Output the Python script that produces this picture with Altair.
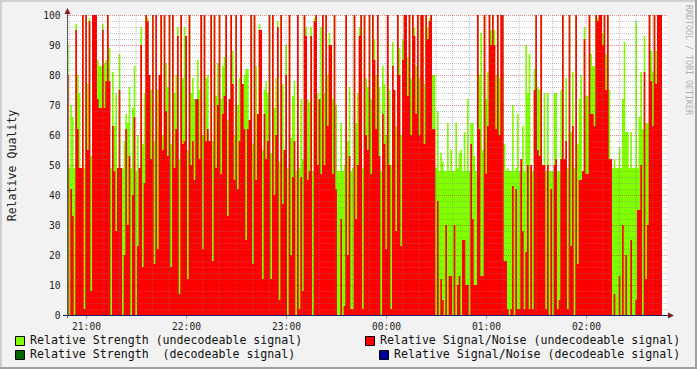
import altair as alt
import pandas as pd

# ---------------- data ----------------
START_MIN = 1248.6          # 20:48:36, minutes since midnight of first day
X_DOMAIN = [1248.6, 1608.6]  # 6 hours shown

# Relative Strength (undecodeable signal), one value per minute
STRENGTH = [
    90, 49, 70, 66, 49, 97, 80, 74, 49, 100, 49, 100, 77, 99, 53, 100, 100, 100, 85, 83,
    83, 97, 84, 85, 100, 89, 49, 81, 63, 74, 49, 87, 49, 49, 58, 67, 64, 76, 49, 69,
    83, 48, 60, 49, 96, 57, 74, 100, 99, 80, 75, 100, 58, 100, 75, 80, 100, 60, 100,
    84, 76, 100, 57, 100, 74, 80, 96, 52, 100, 79, 96, 93, 55, 100, 74, 79, 72, 72, 85,
    75, 100, 60, 100, 79, 80, 58, 100, 58, 100, 73, 84, 100, 72, 83, 86, 100, 65, 72, 100,
    88, 60, 100, 70, 79, 100, 77, 80, 82, 82, 65, 100, 57, 100, 83, 67, 97, 95, 55, 75,
    78, 74, 100, 54, 100, 69, 79, 98, 51, 100, 77, 55, 90, 49, 100, 59, 73, 78, 48, 100,
    49, 72, 52, 100, 96, 72, 71, 96, 48, 99, 100, 74, 72, 96, 100, 74, 100, 80, 94, 90,
    72, 100, 70, 48, 48, 64, 48, 50, 100, 58, 76, 48, 49, 100, 64, 74, 96, 100, 49, 100,
    79, 76, 100, 72, 100, 92, 80, 100, 76, 48, 83, 77, 60, 100, 75, 50, 91, 75, 63, 100,
    89, 60, 92, 100, 100, 86, 100, 79, 100, 96, 83, 100, 79, 100, 100, 77, 100, 96, 99, 100,
    80, 80, 49, 68, 48, 54, 51, 48, 48, 64, 48, 55, 48, 48, 64, 49, 54, 55, 48, 61,
    48, 72, 48, 64, 64, 53, 48, 100, 80, 94, 55, 100, 72, 81, 100, 95, 100, 95, 80, 100,
    79, 100, 100, 57, 48, 49, 48, 48, 70, 48, 49, 67, 48, 48, 63, 48, 90, 74, 87, 48,
    48, 82, 100, 76, 75, 100, 50, 74, 48, 74, 48, 48, 48, 74, 74, 48, 48, 75, 100, 52,
    79, 49, 100, 61, 81, 49, 100, 57, 72, 80, 48, 96, 73, 73, 100, 87, 83, 83, 100, 99,
    100, 100, 94, 100, 87, 100, 75, 52, 49, 52, 49, 49, 56, 49, 72, 91, 61, 61, 49, 61,
    49, 49, 98, 49, 66, 81, 62, 93, 64, 64, 100, 88, 81, 100, 88, 100, 100, 100,
]

# Relative Signal/Noise (undecodeable signal), one value per minute
SNR = [
    80, 0, 42, 33, 0, 95, 62, 49, 49, 100, 2, 100, 55, 98, 8, 100, 100, 100, 72, 69,
    69, 95, 69, 78, 100, 78, 0, 63, 48, 28, 49, 75, 49, 0, 20, 62, 30, 53, 0, 40,
    66, 0, 23, 49, 90, 16, 44, 100, 98, 80, 52, 100, 17, 100, 22, 80, 100, 55, 100,
    68, 53, 100, 16, 100, 49, 62, 93, 7, 100, 57, 58, 93, 12, 100, 50, 58, 45, 72, 72,
    52, 100, 22, 100, 58, 62, 58, 100, 18, 100, 49, 70, 100, 47, 67, 73, 100, 33, 72, 100,
    77, 45, 100, 42, 58, 100, 77, 62, 25, 62, 65, 100, 17, 100, 45, 67, 95, 95, 12, 67,
    52, 58, 100, 12, 100, 40, 60, 96, 5, 100, 37, 55, 80, 0, 100, 20, 46, 58, 0, 100,
    2, 46, 8, 100, 93, 45, 48, 93, 0, 98, 100, 50, 72, 47, 100, 50, 100, 63, 90, 90,
    47, 100, 42, 0, 0, 32, 0, 3, 100, 20, 53, 2, 2, 100, 32, 50, 93, 100, 2, 100,
    60, 55, 100, 47, 100, 85, 62, 100, 53, 0, 67, 57, 22, 100, 50, 2, 83, 75, 28, 100,
    80, 23, 85, 100, 100, 73, 100, 60, 100, 93, 67, 100, 60, 100, 100, 57, 100, 92, 98, 100,
    62, 62, 0, 38, 0, 12, 5, 0, 30, 0, 13, 13, 0, 30, 0, 10, 13, 0, 25, 25,
    10, 10, 0, 57, 32, 10, 10, 100, 62, 13, 13, 100, 47, 63, 100, 90, 100, 90, 62, 100,
    60, 100, 100, 18, 18, 2, 0, 2, 43, 0, 42, 2, 2, 52, 28, 2, 21, 50, 2, 50,
    2, 75, 100, 55, 53, 100, 50, 50, 2, 50, 0, 42, 0, 50, 52, 2, 5, 52, 100, 52,
    58, 2, 100, 23, 63, 0, 100, 17, 45, 45, 48, 92, 47, 47, 100, 67, 67, 63, 100, 98,
    100, 100, 90, 100, 75, 100, 52, 52, 0, 7, 0, 0, 13, 0, 30, 0, 20, 0, 0, 25,
    0, 0, 5, 35, 35, 50, 0, 81, 12, 30, 100, 78, 63, 100, 77, 100, 100, 100,
]

HOUR_TICKS = [1260, 1320, 1380, 1440, 1500, 1560]
HOUR_LABELS = ["21:00", "22:00", "23:00", "00:00", "01:00", "02:00"]
Y_TICKS = [0, 10, 20, 30, 40, 50, 60, 70, 80, 90, 100]
MINOR_X = [m for m in range(1250, 1609, 10) if m % 60 != 0]
MINOR_Y = [v for v in range(2, 100, 2) if v % 10 != 0]
MAJOR_Y = [10, 20, 30, 40, 50, 60, 70, 80, 90, 100]

LEGEND_LABELS = [
    "Relative Strength (undecodeable signal)",
    "Relative Signal/Noise (undecodeable signal)",
    "Relative Strength\u00a0 (decodeable signal)",
    "Relative Signal/Noise (decodeable signal)",
]

# ---------------- styles ----------------
GREEN = "#80FF00"
RED = "#FF0000"
DKGREEN = "#006600"
DKBLUE = "#000099"
LEGEND_COLORS = [GREEN, RED, DKGREEN, DKBLUE]
MONO = "DejaVu Sans Mono"
W, H = 600, 300
PAD = {"left": 67, "top": 15, "right": 30, "bottom": 54}

n = len(STRENGTH)
df = pd.DataFrame({
    "t": [START_MIN + i for i in range(n)] + [START_MIN + n],
    "g": STRENGTH + [STRENGTH[-1]],
    "r": SNR + [SNR[-1]],
})

xscale = alt.Scale(domain=X_DOMAIN, nice=False, zero=False)
yscale = alt.Scale(domain=[0, 100], nice=False)

label_arr = "[" + ",".join("'%s'" % s for s in HOUR_LABELS) + "]"
x_axis = alt.Axis(values=HOUR_TICKS, labelExpr=label_arr + "[round((datum.value-1260)/60)]",
                  grid=False, domain=False, ticks=True, tickSize=3, tickColor="#c08080",
                  labelPadding=3, labelFont=MONO, labelFontSize=9.6, labelColor="#222",
                  title=None, labelFlush=False)
y_axis = alt.Axis(values=Y_TICKS, format="d", grid=False, domain=False, ticks=False,
                  labelPadding=7, labelFont=MONO, labelFontSize=9.6, labelColor="#222",
                  title="Relative Quality", titleFont=MONO, titleFontSize=11.6,
                  titleFontWeight="normal", titleColor="#222", titleAngle=270,
                  titleX=-55, titleY=150, titleAlign="center", titleBaseline="middle")

green = alt.Chart(df).mark_area(interpolate="step-after", color=GREEN).encode(
    x=alt.X("t:Q", scale=xscale, axis=x_axis),
    y=alt.Y("g:Q", scale=yscale, axis=y_axis),
)
red = alt.Chart(df).mark_area(interpolate="step-after", color=RED).encode(
    x=alt.X("t:Q", scale=xscale, axis=x_axis),
    y=alt.Y("r:Q", scale=yscale, axis=y_axis),
)

minor_x = alt.Chart(pd.DataFrame({"m": MINOR_X})).mark_rule(
    color="#808080", opacity=0.5, strokeDash=[1, 1], strokeWidth=1).encode(
    x=alt.X("m:Q", scale=xscale, axis=x_axis))
major_x = alt.Chart(pd.DataFrame({"m": HOUR_TICKS})).mark_rule(
    color="#C00000", opacity=0.45, strokeDash=[1, 1], strokeWidth=1).encode(
    x=alt.X("m:Q", scale=xscale, axis=x_axis))
minor_y = alt.Chart(pd.DataFrame({"v": MINOR_Y})).mark_rule(
    color="#808080", opacity=0.45, strokeDash=[1, 1], strokeWidth=1, yOffset=0.5).encode(
    y=alt.Y("v:Q", scale=yscale, axis=y_axis))
major_y = alt.Chart(pd.DataFrame({"v": MAJOR_Y})).mark_rule(
    color="#C00000", opacity=0.45, strokeDash=[1, 1], strokeWidth=1, yOffset=0.5).encode(
    y=alt.Y("v:Q", scale=yscale, axis=y_axis))

one = pd.DataFrame({"k": [0]})
deco = []
# axis lines
deco.append(alt.Chart(one).mark_rule(color="#1a1a66", strokeWidth=1).encode(
    x=alt.value(-4), x2=alt.value(603), y=alt.value(300.5)))
deco.append(alt.Chart(one).mark_rule(color="#555555", strokeWidth=1).encode(
    x=alt.value(0.5), y=alt.value(303), y2=alt.value(-4)))
# arrows
deco.append(alt.Chart(one).mark_point(shape="M0,-1L1,1L-1,1Z", filled=True, size=36,
                                      color="#7F1F1F", opacity=1).encode(
    x=alt.value(0.5), y=alt.value(-4)))
deco.append(alt.Chart(one).mark_point(shape="M1,0L-1,-1L-1,1Z", filled=True, size=36,
                                      color="#7F1F1F", opacity=1).encode(
    x=alt.value(604), y=alt.value(300.5)))
# frame
deco.append(alt.Chart(one).mark_rect(color="#CFCFCF").encode(
    x=alt.value(-67), x2=alt.value(630), y=alt.value(-15), y2=alt.value(-13)))
deco.append(alt.Chart(one).mark_rect(color="#CFCFCF").encode(
    x=alt.value(-67), x2=alt.value(-65), y=alt.value(-15), y2=alt.value(354)))
deco.append(alt.Chart(one).mark_rect(color="#A0A0A0").encode(
    x=alt.value(-67), x2=alt.value(630), y=alt.value(352), y2=alt.value(354)))
deco.append(alt.Chart(one).mark_rect(color="#A0A0A0").encode(
    x=alt.value(628), x2=alt.value(630), y=alt.value(-15), y2=alt.value(354)))
# watermark
deco.append(alt.Chart(one).mark_text(text="RRDTOOL / TOBI OETIKER", angle=90, font=MONO,
                                     fontSize=8.3, color="#B0B0B0", align="center",
                                     baseline="middle").encode(
    x=alt.value(620.5), y=alt.value(45)))
# legend
legend_pos = [(-52, 321, -37, 326), (298, 321, 313, 326), (-52, 335, -37, 340), (312, 335, 327, 340)]
for lab, col, (sx, sy, tx, ty) in zip(LEGEND_LABELS, LEGEND_COLORS, legend_pos):
    deco.append(alt.Chart(one).mark_rect(color=col, stroke="black", strokeWidth=1).encode(
        x=alt.value(sx + 0.5), x2=alt.value(sx + 9.5), y=alt.value(sy + 0.5), y2=alt.value(sy + 9.5)))
    deco.append(alt.Chart(one).mark_text(text=lab, font=MONO, fontSize=11.6, color="#111",
                                         align="left", baseline="middle").encode(
        x=alt.value(tx), y=alt.value(ty)))

chart = alt.layer(green, red, minor_x, major_x, minor_y, major_y, *deco).properties(
    width=W, height=H, padding=PAD,
    autosize=alt.AutoSizeParams(type="none"),
    background="#F2F2F2",
).configure_view(stroke=None, fill="white")

chart.save("out.html", embed_options={"renderer": "svg", "actions": False})
